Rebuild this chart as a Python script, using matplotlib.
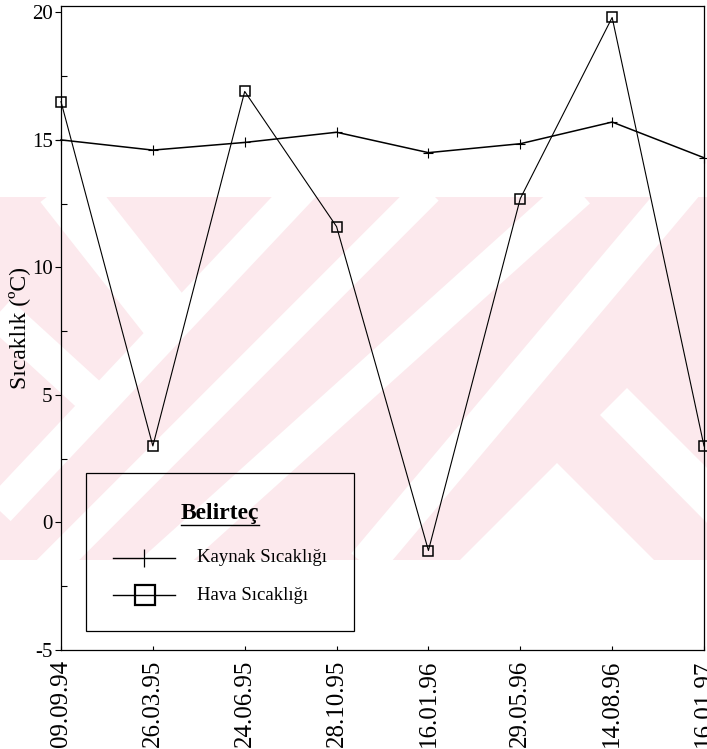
import matplotlib
matplotlib.use("Agg")
import matplotlib.pyplot as plt
from matplotlib.patches import Rectangle, Polygon
from matplotlib.lines import Line2D

plt.rcParams['font.family'] = ['Liberation Serif', 'DejaVu Serif']

# ölçüm tarihleri ve sıcaklıklar (°C)
tarihler = ["09.09.94", "26.03.95", "24.06.95", "28.10.95",
            "16.01.96", "29.05.96", "14.08.96", "16.01.97"]
kaynak_sicakligi = [15.0, 14.6, 14.9, 15.3, 14.5, 14.85, 15.7, 14.3]
hava_sicakligi = [16.5, 3.0, 16.9, 11.6, -1.1, 12.7, 19.8, 3.0]

W, H = 707, 749
fig = plt.figure(figsize=(W / 100, H / 100), dpi=100)

# arka plandaki soluk pembe filigran (piksel koordinatlarında)
bg = fig.add_axes([0, 0, 1, 1], zorder=0)
bg.set_xlim(0, W)
bg.set_ylim(H, 0)
bg.axis('off')
pembe = '#fce9ed'
band = Rectangle((0, 197), W, 363, facecolor=pembe, edgecolor='none')
bg.add_patch(band)
seritler = [
    ([(62, 185), (180, 335)], 55),
    ([(305, 185), (-15, 525)], 32),
    ([(-15, 300), (100, 405)], 35),
    ([(428, 190), (-20, 638)], 30),
    ([(578, 190), (-10, 719)], 36),
    ([(685, 185), (365, 565)], 36),
]
for pts, w in seritler:
    xs, ys = zip(*pts)
    ln, = bg.plot(xs, ys, color='white', lw=w * 0.72, solid_capstyle='butt')
    ln.set_clip_path(band)
sekiller = [
    [(557, 463), (452, 568), (662, 568)],
    [(600, 415), (627, 388), (712, 473), (712, 528)],
]
for pts in sekiller:
    p = Polygon(pts, facecolor='white', edgecolor='none')
    bg.add_patch(p)
    p.set_clip_path(band)

# ana grafik
ax = fig.add_axes([61 / W, 1 - 650 / H, 643 / W, 644 / H], zorder=1)
ax.patch.set_alpha(0)
x = list(range(len(tarihler)))
ax.plot(x, kaynak_sicakligi, color='black', lw=1.1, marker='+', ms=7, mew=0.8, clip_on=False)
ax.plot(x, hava_sicakligi, color='black', lw=0.8, marker='s', ms=6.5, mew=1.1,
        mfc='none', clip_on=False)

ax.set_xlim(0, 7)
ax.set_ylim(-5, 20.25)
ax.set_yticks([-5, 0, 5, 10, 15, 20])
ax.set_yticklabels(['-5', '0', '5', '10', '15', '20'])
ax.set_yticks([-2.5, 2.5, 7.5, 12.5, 17.5], minor=True)
ax.set_xticks(x)
ax.set_xticklabels(tarihler, rotation=90, fontsize=18)
ax.tick_params(axis='y', which='major', direction='out', length=4, width=0.8,
               labelsize=15, pad=2)
ax.tick_params(axis='y', which='minor', direction='in', length=4, width=0.8)
ax.tick_params(axis='x', direction='in', length=3, width=0.8, pad=7)
for s in ax.spines.values():
    s.set_linewidth(0.9)
ax.set_ylabel("Sıcaklık (ºC)", fontsize=17, labelpad=1)

# belirteç kutusu
fg = fig.add_axes([0, 0, 1, 1], zorder=3)
fg.set_xlim(0, W)
fg.set_ylim(H, 0)
fg.axis('off')
fg.add_patch(Rectangle((86, 473), 268, 158, facecolor='none', edgecolor='black', lw=0.9))
fg.text(220, 513, "Belirteç", fontsize=17, fontweight='bold', ha='center', va='center')
fg.plot([181, 259], [525, 525], color='black', lw=1.0)
fg.add_line(Line2D([113, 175], [558, 558], color='black', lw=1.0))
fg.plot([144], [558], marker='|', ms=13, mew=0.9, color='black')
fg.text(197, 558, "Kaynak Sıcaklığı", fontsize=13.5, va='center')
fg.add_line(Line2D([113, 175], [595, 595], color='black', lw=1.0))
fg.plot([145], [595], marker='s', ms=15, mew=1.6, mfc='none', color='black')
fg.text(197, 595, "Hava Sıcaklığı", fontsize=13.5, va='center')

fig.savefig('out.png', dpi=100)
